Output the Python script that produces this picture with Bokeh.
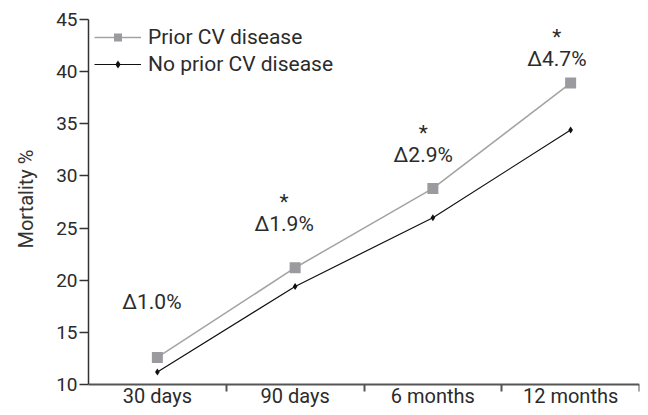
from bokeh.plotting import figure
from bokeh.models import ColumnDataSource, FixedTicker, Legend, LegendItem, Range1d, Title
from bokeh.core.properties import value
from bokeh.embed import file_html
from bokeh.resources import INLINE

categories = ["30 days", "90 days", "6 months", "12 months"]
prior_cv = [12.6, 21.2, 28.8, 38.9]
no_prior_cv = [11.2, 19.4, 26.0, 34.4]
delta_labels = ["\u03941.0%", "\u03941.9%", "\u03942.9%", "\u03944.7%"]
significant = [False, True, True, True]
y_ticks = [10, 15, 20, 25, 30, 35, 40, 45]

# layout constants for annotation placement (data units)
label_x_shift = [-0.04, -0.08, -0.07, -0.1]
label_y = [17.9, 25.4, 32.0, 41.2]
y_view_start = 7.8   # leaves room under the x axis for its labels

FONT = "Roboto"
TXT = "#2b2b2b"
FS = "20px"
FS_ANN = "21px"

xs = [i + 0.5 for i in range(len(categories))]

p = figure(width=640, height=407, output_backend="svg", toolbar_location=None,
           x_range=Range1d(0, len(categories)), y_range=Range1d(y_view_start, y_ticks[-1]),
           min_border_left=88, min_border_right=1, min_border_top=19, min_border_bottom=0)
p.outline_line_color = None
p.grid.visible = False
p.background_fill_color = "white"

src = ColumnDataSource(dict(x=xs, prior=prior_cv, noprior=no_prior_cv))

l1 = p.line("x", "prior", source=src, line_color="#a3a3a3", line_width=1.5)
m1 = p.scatter("x", "prior", source=src, marker="square", size=11,
               fill_color="#9b9b9f", line_color=None)
l2 = p.line("x", "noprior", source=src, line_color="#111111", line_width=1.2)
m2 = p.scatter("x", "noprior", source=src, marker="diamond", size=7,
               fill_color="#111111", line_color=None)

legend = Legend(items=[LegendItem(label="Prior CV disease", renderers=[l1, m1]),
                       LegendItem(label="No prior CV disease", renderers=[l2, m2])],
                location="top_left")
legend.border_line_color = None
legend.background_fill_alpha = 0
legend.label_text_font = FONT
legend.label_text_font_size = FS_ANN
legend.label_text_color = TXT
legend.glyph_width = 47
legend.glyph_height = 20
legend.spacing = 3
legend.padding = 9
legend.margin = 6
legend.label_standoff = 7
p.add_layout(legend)

# annotations
ann = ColumnDataSource(dict(x=[x + s for x, s in zip(xs, label_x_shift)], y=label_y, t=delta_labels))
p.text("x", "y", text="t", source=ann, text_font=value(FONT), text_font_size=FS_ANN,
       text_color=TXT, text_align="center", text_baseline="middle")
sx = [x + s for x, s, f in zip(xs, label_x_shift, significant) if f]
sy = [y + 2.1 for y, f in zip(label_y, significant) if f]
stars = ColumnDataSource(dict(x=sx, y=sy, t=["*"] * len(sx)))
p.text("x", "y", text="t", source=stars, text_font=value(FONT), text_font_size=FS_ANN,
       text_color=TXT, text_align="center", text_baseline="middle")

# x axis at y = 10: labels at category centres, tick marks at category boundaries
xa = p.xaxis[0]
xa.fixed_location = y_ticks[0]
xa.ticker = FixedTicker(ticks=xs, minor_ticks=list(range(1, len(categories) + 1)))
xa.major_label_overrides = {x: c for x, c in zip(xs, categories)}
xa.major_tick_out = 0
xa.major_tick_in = 0
xa.minor_tick_out = 7
xa.minor_tick_in = 0
xa.minor_tick_line_color = "#555555"
xa.minor_tick_line_width = 2
xa.axis_line_color = "#555555"
xa.axis_line_width = 2
xa.major_label_text_font = FONT
xa.major_label_text_font_size = FS
xa.major_label_text_color = TXT
xa.major_label_standoff = -8

ya = p.yaxis[0]
ya.ticker = FixedTicker(ticks=y_ticks)
ya.bounds = (y_ticks[0], y_ticks[-1])
ya.minor_tick_line_color = None
ya.major_tick_out = 9
ya.major_tick_in = 0
ya.major_tick_line_color = "#333333"
ya.major_tick_line_width = 1.5
ya.axis_line_color = "#333333"
ya.axis_line_width = 1.5
ya.major_label_text_font = FONT
ya.major_label_text_font_size = "19px"
ya.major_label_text_color = TXT
ya.major_label_standoff = 2

ytitle = Title(text="Mortality %", align="left", offset=159, standoff=27,
               vertical_align="top",
               text_font=FONT, text_font_size="20px", text_font_style="normal",
               text_color="#333333")
p.add_layout(ytitle, "left")

open("out.html", "w").write(file_html(p, INLINE))
